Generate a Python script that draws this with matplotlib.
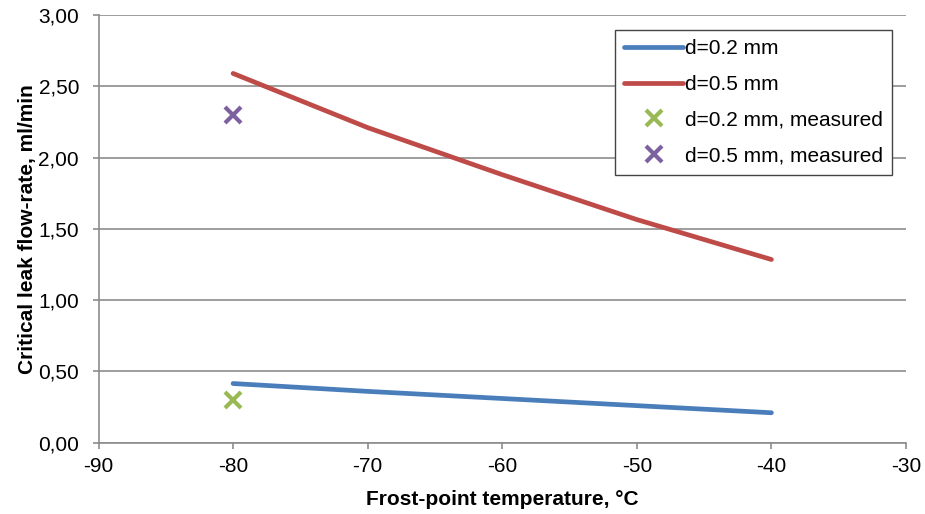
import matplotlib
matplotlib.use("Agg")
import matplotlib.pyplot as plt
from matplotlib.ticker import FuncFormatter, MultipleLocator

plt.rcParams['font.family'] = ['Liberation Sans', 'DejaVu Sans']

temps = [-80, -70, -60, -50, -40]
flow_02 = [0.415, 0.36, 0.31, 0.26, 0.21]
flow_05 = [2.59, 2.21, 1.88, 1.565, 1.285]
meas_temp = [-80]
meas_02 = [0.30]
meas_05 = [2.30]

fig = plt.figure(figsize=(9.25, 5.14), dpi=100)
ax = fig.add_axes([98.5 / 925, 71.3 / 514, 807.5 / 925, 427.7 / 514])

grid_c = '#8c8c8c'
ax.plot(temps, flow_02, color='#4a7ebb', lw=3.4, solid_capstyle='round', label='d=0.2 mm', zorder=3)
ax.plot(temps, flow_05, color='#be4b48', lw=3.4, solid_capstyle='round', label='d=0.5 mm', zorder=3)
ax.plot(meas_temp, meas_02, linestyle='none', marker='x', ms=11, mew=3, color='#98b954', label='d=0.2 mm, measured', zorder=4)
ax.plot(meas_temp, meas_05, linestyle='none', marker='x', ms=11, mew=3, color='#7d60a0', label='d=0.5 mm, measured', zorder=4)

ax.set_xlim(-90, -30)
ax.set_ylim(0, 3)
ax.xaxis.set_major_locator(MultipleLocator(10))
ax.yaxis.set_major_locator(MultipleLocator(0.5))
ax.yaxis.set_major_formatter(FuncFormatter(lambda v, p: f"{v:.2f}".replace('.', ',')))
ax.xaxis.set_major_formatter(FuncFormatter(lambda v, p: f"{int(round(v))}"))

ax.grid(axis='y', color=grid_c, lw=1.2)
ax.set_axisbelow(True)
for s in ['top', 'right']:
    ax.spines[s].set_visible(False)
for s in ['left', 'bottom']:
    ax.spines[s].set_color(grid_c)
    ax.spines[s].set_linewidth(1.2)
ax.tick_params(axis='both', colors=grid_c, labelcolor='black', labelsize=15, length=4.5, width=1.2, direction='out')
ax.tick_params(axis='x', pad=6)
ax.tick_params(axis='y', pad=9.5)

ax.set_xlabel('Frost-point temperature, °C', fontsize=15, fontweight='bold', labelpad=10)
ax.set_ylabel('Critical leak flow-rate, ml/min', fontsize=15, fontweight='bold', labelpad=1)

leg = ax.legend(loc='upper right', bbox_to_anchor=(0.983, 0.965), borderaxespad=0, fontsize=15,
                frameon=True, fancybox=False, edgecolor='#444444', framealpha=1, handlelength=2.8,
                handletextpad=0.1, labelspacing=0.8, borderpad=0.45)
leg.get_frame().set_linewidth(1.0)

fig.savefig('out.png', dpi=100)
